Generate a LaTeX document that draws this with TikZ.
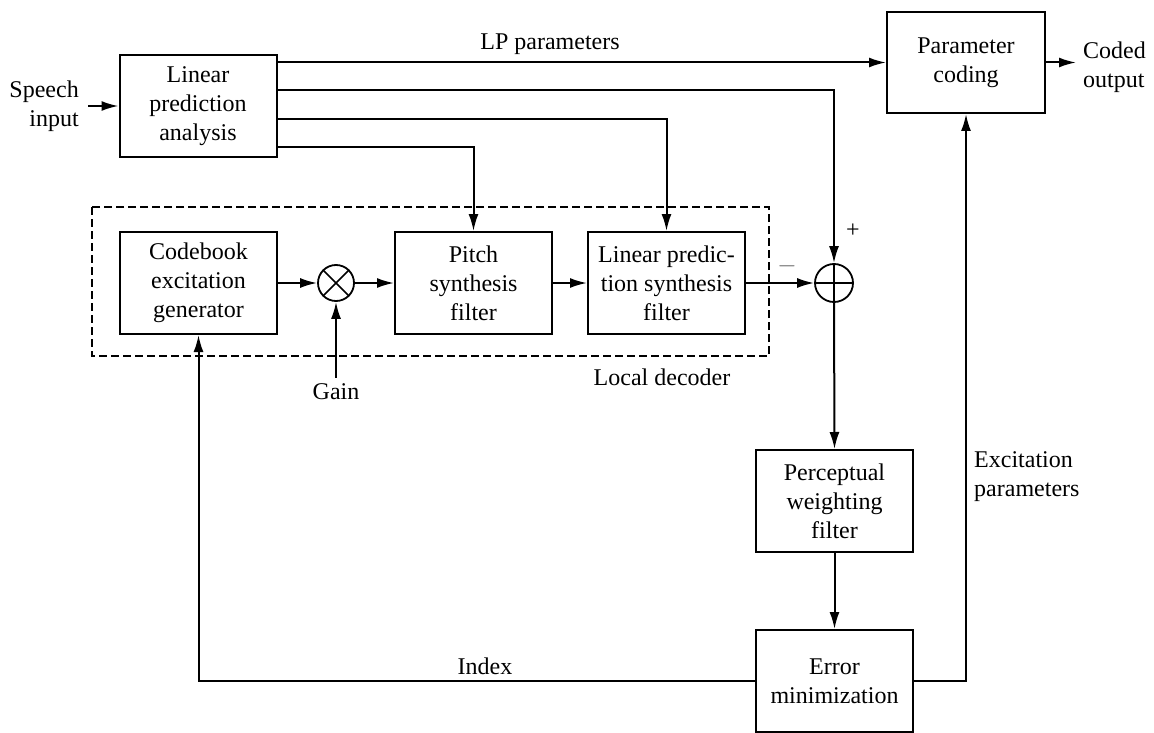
\documentclass[tikz,border=0pt]{standalone}
\usepackage{fontspec}
\setmainfont{Liberation Serif}
\usetikzlibrary{arrows.meta,calc}
\begin{document}
\begin{tikzpicture}[x=1pt,y=-1pt,
  every node/.style={font=\rmfamily\fontsize{24}{29}\selectfont},
  blk/.style={draw,line width=2pt,minimum width=157pt,minimum height=102pt,inner sep=0pt,align=center},
  circ/.style={draw,circle,line width=1.8pt,minimum size=#1,inner sep=0pt},
  lbl/.style={inner sep=0pt,align=center},
  arr/.style={line width=2pt,-{Latex[length=17pt,width=10pt]}},
  dbox/.style={line width=1.6pt,dash pattern=on 8pt off 4pt}
]
\useasboundingbox (0,0) rectangle (1154,733);
% blocks
\node[blk] (lpa) at (198,106) {Linear\\prediction\\analysis};
\node[blk] (cb) at (198.5,283) {Codebook\\excitation\\generator};
\node[blk] (pitch) at (473.5,283) {Pitch\\synthesis\\filter};
\node[blk] (lpsf) at (666.5,283) {Linear predic-\\tion synthesis\\filter};
\node[blk,minimum width=158pt,minimum height=101pt] (pc) at (966,62.5) {Parameter\\coding};
\node[blk] (pw) at (834.5,501) {Perceptual\\weighting\\filter};
\node[blk] (em) at (834.5,681) {Error\\minimization};
\node[circ=36pt] (mul) at (336,283) {};
\node[circ=38pt] (sum) at (834,283) {};
\draw[line width=1.6pt] (mul.north west) -- (mul.south east) (mul.north east) -- (mul.south west);
\draw[line width=1.6pt] (sum.north) -- (sum.south) (sum.west) -- (sum.east);
% dashed local decoder
\draw[dbox] (92,207) rectangle (769,356);
% labels
\node[lbl,align=right,anchor=east] (speech) at (79,106) {Speech\\input};
\node[lbl] (lpp) at (550,44) {LP parameters};
\node[lbl,align=left,anchor=west] (coded) at (1083,67) {Coded\\output};
\node[lbl,inner sep=6pt] (gain) at (336,392) {Gain};
\node[lbl] (locdec) at (662,377) {Local decoder};
\node[lbl] (idx) at (485,666) {Index};
\node[lbl,align=left,anchor=west] (excp) at (974,477) {Excitation\\parameters};
\node[lbl,text=black!60] (minus) at (787,266) {$-$};
\node[lbl] (plus) at (853,231) {+};
% LPA output taps
\coordinate (l1) at (277,62.5);
\coordinate (l2) at (277,90);
\coordinate (l3) at (277,119);
\coordinate (l4) at (277,147);
\coordinate (co) at (1076,62.5);
% connectors
\draw[arr] ([xshift=9pt]speech.east) -- (lpa.west);
\draw[arr] (l1) -- (pc.west);
\draw[arr] (pc.east) -- (co);
\draw[arr] (l2) -- (sum.north |- l2) -- (sum.north);
\draw[arr] (l3) -- (lpsf.north |- l3) -- (lpsf.north);
\draw[arr] (l4) -- (pitch.north |- l4) -- (pitch.north);
\draw[arr] (cb.east) -- (mul.west);
\draw[arr] (mul.east) -- (pitch.west);
\draw[arr] (pitch.east) -- (lpsf.west);
\draw[arr] (lpsf.east) -- (sum.west);
\draw[arr] (gain.north) -- (mul.south);
\draw[arr] (sum.south) -- (pw.north);
\draw[arr] (pw.south) -- (em.north);
\draw[arr] (em.west) -- (cb.south |- em.west) -- (cb.south);
\draw[arr] (em.east) -- (pc.south |- em.east) -- (pc.south);
\end{tikzpicture}
\end{document}
